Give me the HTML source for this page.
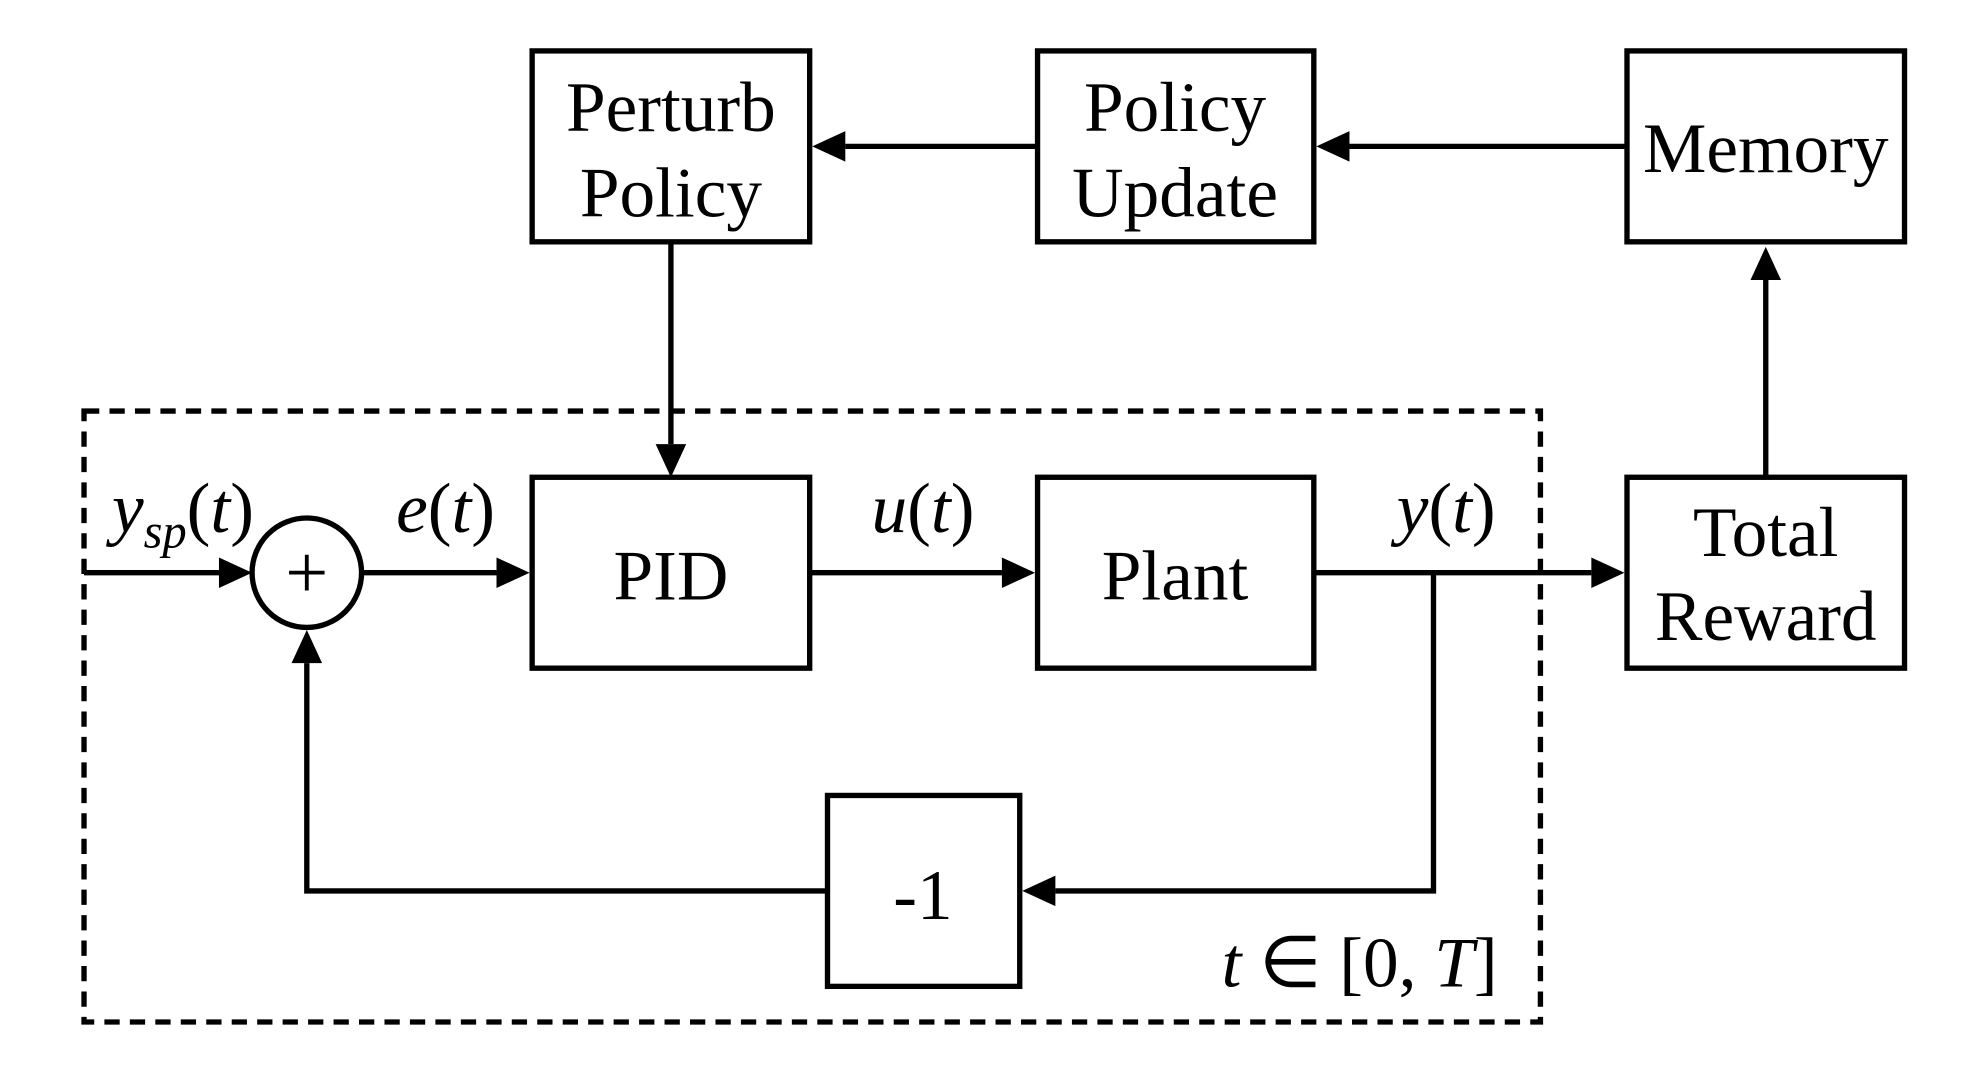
<!DOCTYPE html>
<html><head><style>html,body{margin:0;padding:0;background:#fff}svg{display:block}</style></head><body>
<svg width="1986" height="1092" viewBox="0 0 1560 858" preserveAspectRatio="none" xmlns="http://www.w3.org/2000/svg" font-family="Liberation Serif, serif" font-size="56">
<g fill="none" stroke="#000" stroke-width="4.2">
<rect x="66" y="323" width="1144" height="480" stroke-dasharray="12,8"/>
<rect x="418" y="40" width="218" height="150"/>
<rect x="815" y="40" width="217" height="150"/>
<rect x="1278" y="40" width="218" height="150"/>
<rect x="418" y="375" width="218" height="150"/>
<rect x="815" y="375" width="217" height="150"/>
<rect x="1278" y="375" width="218" height="150"/>
<rect x="650" y="625" width="151" height="150"/>
<circle cx="241" cy="450" r="43"/>
</g>
<g stroke="#000" stroke-width="4.2" fill="#000">
<path d="M1278 115H1060" /><path d="M1060 103L1034 115L1060 127z" stroke="none"/>
<path d="M815 115H664"/><path d="M664 103L638 115L664 127z" stroke="none"/>
<path d="M527 190V349" fill="none"/><path d="M515 349L527 375L539 349z" stroke="none"/>
<path d="M1387 375V220" fill="none"/><path d="M1375 220L1387 194L1399 220z" stroke="none"/>
<path d="M66 450H172"/><path d="M172 438L198 450L172 462z" stroke="none"/>
<path d="M284 450H390"/><path d="M390 438L416 450L390 462z" stroke="none"/>
<path d="M636 450H787"/><path d="M787 438L813 450L787 462z" stroke="none"/>
<path d="M1032 450H1250"/><path d="M1250 438L1276 450L1250 462z" stroke="none"/>
<path d="M1126 450V700H829" fill="none"/><path d="M829 688L803 700L829 712z" stroke="none"/>
<path d="M650 700H241V521" fill="none"/><path d="M229 521L241 495L253 521z" stroke="none"/>
</g>
<g text-anchor="middle" fill="#000">
<text x="527" y="103">Perturb</text><text x="527" y="170">Policy</text>
<text x="923" y="103">Policy</text><text x="923" y="170">Update</text>
<text x="1387" y="135">Memory</text>
<text x="527" y="471">PID</text>
<text x="923" y="471">Plant</text>
<text x="1387" y="437">Total</text><text x="1387" y="503">Reward</text>
<text x="725" y="722">-1</text>
<text x="241" y="470" font-size="60">+</text>
<text x="350" y="418"><tspan font-style="italic">e</tspan>(<tspan font-style="italic">t</tspan>)</text>
<text x="725" y="418"><tspan font-style="italic">u</tspan>(<tspan font-style="italic">t</tspan>)</text>
<text x="1136" y="418"><tspan font-style="italic">y</tspan>(<tspan font-style="italic">t</tspan>)</text>
<text x="1068" y="775"><tspan font-style="italic">t</tspan> ∈ [0, <tspan font-style="italic">T</tspan>]</text>
</g>
<text x="88" y="418" fill="#000"><tspan font-style="italic">y</tspan><tspan font-style="italic" font-size="38" dy="12">sp</tspan><tspan dy="-12">(</tspan><tspan font-style="italic">t</tspan>)</text>
</svg>
</body></html>
